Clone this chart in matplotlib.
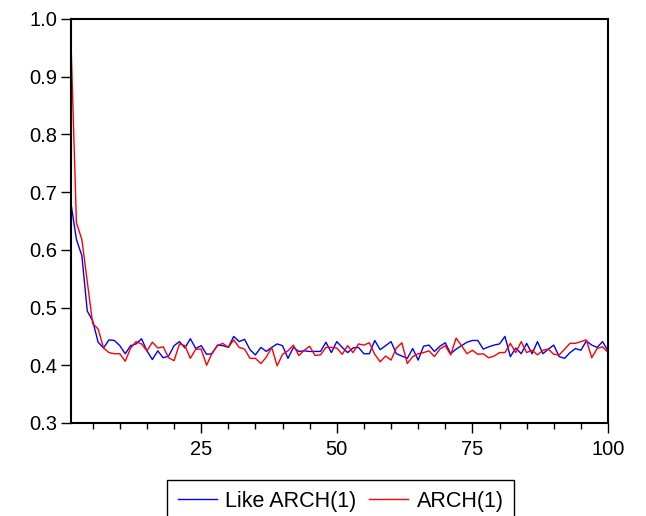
import matplotlib
matplotlib.use("Agg")
import matplotlib.pyplot as plt
from matplotlib.ticker import MultipleLocator

plt.rcParams["font.family"] = ["Liberation Sans", "DejaVu Sans"]

# data, x = 1..100
x = list(range(1, 101))

like_arch = [
    0.680, 0.618, 0.590, 0.494, 0.477, 0.440, 0.430, 0.444, 0.443, 0.434,
    0.420, 0.434, 0.437, 0.446, 0.425, 0.410, 0.425, 0.413, 0.416, 0.434,
    0.441, 0.430, 0.446, 0.429, 0.434, 0.419, 0.420, 0.435, 0.434, 0.431,
    0.450, 0.441, 0.445, 0.427, 0.418, 0.431, 0.424, 0.431, 0.437, 0.434,
    0.412, 0.431, 0.424, 0.425, 0.424, 0.424, 0.424, 0.440, 0.422, 0.441,
    0.431, 0.422, 0.430, 0.431, 0.420, 0.420, 0.443, 0.427, 0.434, 0.441,
    0.420, 0.416, 0.412, 0.429, 0.409, 0.433, 0.435, 0.424, 0.433, 0.439,
    0.420, 0.428, 0.434, 0.440, 0.443, 0.443, 0.428, 0.432, 0.435, 0.437,
    0.450, 0.415, 0.430, 0.420, 0.438, 0.420, 0.441, 0.420, 0.428, 0.435,
    0.415, 0.412, 0.422, 0.429, 0.426, 0.442, 0.435, 0.431, 0.441, 0.425,
]

arch = [
    0.960, 0.647, 0.618, 0.545, 0.472, 0.463, 0.430, 0.422, 0.420, 0.420,
    0.407, 0.430, 0.441, 0.437, 0.425, 0.440, 0.430, 0.432, 0.413, 0.408,
    0.437, 0.434, 0.412, 0.428, 0.428, 0.400, 0.421, 0.434, 0.438, 0.431,
    0.444, 0.431, 0.428, 0.412, 0.412, 0.403, 0.414, 0.431, 0.399, 0.419,
    0.425, 0.435, 0.417, 0.426, 0.433, 0.417, 0.418, 0.431, 0.431, 0.430,
    0.419, 0.434, 0.422, 0.437, 0.435, 0.439, 0.419, 0.406, 0.416, 0.409,
    0.430, 0.439, 0.403, 0.415, 0.420, 0.422, 0.425, 0.415, 0.428, 0.434,
    0.418, 0.447, 0.434, 0.420, 0.426, 0.419, 0.420, 0.413, 0.416, 0.422,
    0.422, 0.438, 0.422, 0.441, 0.422, 0.426, 0.418, 0.426, 0.428, 0.419,
    0.418, 0.428, 0.438, 0.438, 0.441, 0.444, 0.413, 0.429, 0.432, 0.422,
]

series_names = ["Like ARCH(1)", "ARCH(1)"]

fig = plt.figure(figsize=(6.46, 5.16), dpi=100)
ax = fig.add_axes([71 / 646, 1 - 423 / 516, (608 - 71) / 646, (423 - 19) / 516])

ax.plot(x, like_arch, color="#0000ff", lw=1.0, label=series_names[0])
ax.plot(x, arch, color="#ff0000", lw=1.0, label=series_names[1])

ax.set_xlim(1, 100)
ax.set_ylim(0.3, 1.0)
ax.set_xticks([25, 50, 75, 100])
ax.xaxis.set_minor_locator(MultipleLocator(5))
ax.yaxis.set_major_locator(MultipleLocator(0.1))
ax.yaxis.set_major_formatter(plt.FormatStrFormatter("%.1f"))

for s in ax.spines.values():
    s.set_linewidth(1.5)
    s.set_color("black")

ax.tick_params(axis="both", which="major", direction="out", length=7,
               width=1.0, labelsize=14.5, pad=3)
ax.tick_params(axis="x", which="major", pad=5)
ax.tick_params(axis="x", which="minor", direction="out", length=4, width=1.0)

fig.legend(loc="upper left", bbox_to_anchor=(167 / 646, 1 - 480 / 516),
           ncol=2, fontsize=15.5, frameon=True, fancybox=False,
           edgecolor="black", framealpha=1, handlelength=1.8,
           handletextpad=0.4, columnspacing=0.6, borderpad=0.5,
           borderaxespad=0)

fig.savefig("out.png", dpi=100)
